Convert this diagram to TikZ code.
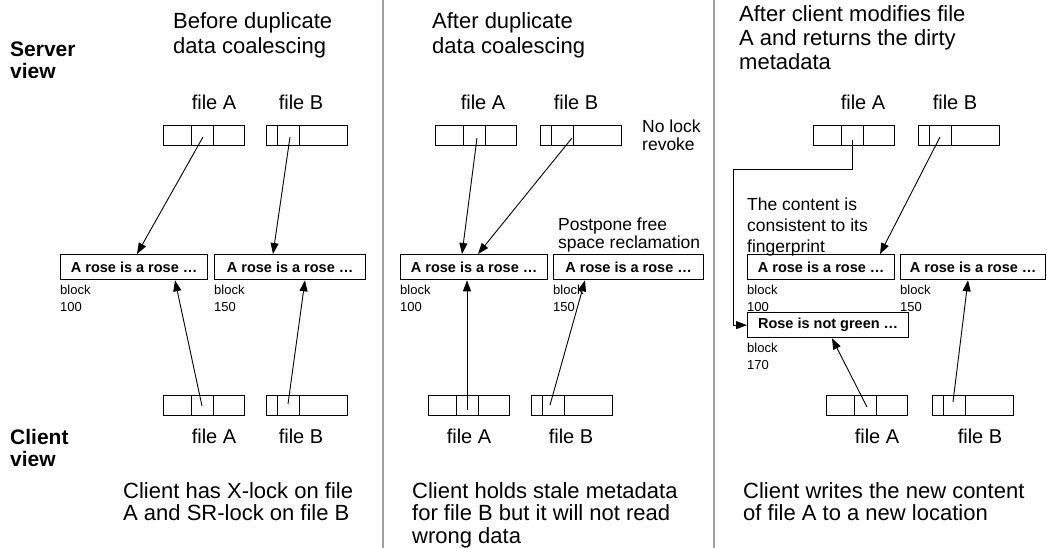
\documentclass[tikz,border=0pt]{standalone}
\usepackage{fontspec}
\setmainfont{Liberation Sans}
\usetikzlibrary{arrows.meta,calc}
\definecolor{sepgray}{RGB}{160,160,160}
\tikzset{
  filebox/.style={draw, line width=1pt, minimum width=81pt, minimum height=20pt, inner sep=0pt, anchor=north west},
  blockbox/.style={draw, line width=1.3pt, minimum height=25pt, inner sep=0pt, anchor=north west,
    font=\bfseries\fontsize{14.5}{16}\selectfont},
  arr/.style={line width=0.9pt, -{Triangle[length=11pt,width=8pt]}},
  bigtext/.style={inner sep=0pt, anchor=north west, align=left, font=\fontsize{22}{25}\selectfont},
  captext/.style={inner sep=0pt, anchor=north west, align=left, font=\fontsize{22}{22.5}\selectfont},
  sidetext/.style={inner sep=0pt, anchor=north west, align=left, font=\bfseries\fontsize{21}{22}\selectfont},
  filelbl/.style={inner sep=0pt, anchor=base, font=\fontsize{20}{22}\selectfont},
  blocklbl/.style={inner sep=0pt, anchor=north west, align=left, font=\fontsize{13}{17}\selectfont},
  note/.style={inner sep=0pt, anchor=north west, align=left, font=\fontsize{17.5}{18}\selectfont},
  sep/.style={draw=sepgray, line width=2.5pt},
}
% cell dividers of a file map: A-style (3 cells), B-style (narrow first cell)
\newcommand\splitA[1]{\draw[line width=1pt] ([xshift=28pt]#1.north west) -- ([xshift=28pt]#1.south west)
  ([xshift=50pt]#1.north west) -- ([xshift=50pt]#1.south west);}
\newcommand\splitB[1]{\draw[line width=1pt] ([xshift=11pt]#1.north west) -- ([xshift=11pt]#1.south west)
  ([xshift=33pt]#1.north west) -- ([xshift=33pt]#1.south west);}
\begin{document}
\begin{tikzpicture}[x=1pt,y=-1pt]
\useasboundingbox (0,0) rectangle (1047,548);

% panel separators
\coordinate (s1t) at (383,0);   \coordinate (s1b) at (383,548);
\coordinate (s2t) at (714,0);   \coordinate (s2b) at (714,548);
\draw[sep] (s1t) -- (s1b);
\draw[sep] (s2t) -- (s2b);

% side labels
\node[sidetext] (srv) at (10,42) {Server\\view};
\node[sidetext] (cli) at (10,429) {Client\\view};

% ---------------- panel 1 ----------------
\node[bigtext] (t1) at (173,12) {Before duplicate\\data coalescing};
\node[filebox] (p1sA) at (163,125) {}; \splitA{p1sA}
\node[filebox] (p1sB) at (266,125) {}; \splitB{p1sB}
\node[filelbl] (p1sAl) at (214,110) {file A};
\node[filelbl] (p1sBl) at (301,110) {file B};
\node[blockbox, minimum width=147pt] (p1b1) at (60,254) {A rose is a rose …};
\node[blockbox, minimum width=151pt] (p1b2) at (214,254) {A rose is a rose …};
\node[blocklbl] (p1l1) at (60,285) {block\\100};
\node[blocklbl] (p1l2) at (214,285) {block\\150};
\node[filebox] (p1cA) at (163,395) {}; \splitA{p1cA}
\node[filebox] (p1cB) at (266,395) {}; \splitB{p1cB}
\node[filelbl] (p1cAl) at (214,443) {file A};
\node[filelbl] (p1cBl) at (301,443) {file B};
\node[captext] (c1) at (123,482) {Client has X-lock on file\\A and SR-lock on file B};
\coordinate (p1sAp) at (203,137);
\coordinate (p1sBp) at (290,137);
\coordinate (p1cAp) at (202,406);
\coordinate (p1cBp) at (288,404);
\draw[arr] (p1sAp) -- ($(p1b1.north west)+(77,0)$);
\draw[arr] (p1sBp) -- ($(p1b2.north west)+(59,0)$);
\draw[arr] (p1cAp) -- ($(p1b1.south west)+(115,0)$);
\draw[arr] (p1cBp) -- ($(p1b2.south west)+(91,0)$);

% ---------------- panel 2 ----------------
\node[bigtext] (t2) at (432,12) {After duplicate\\data coalescing};
\node[filebox] (p2sA) at (435,125) {}; \splitA{p2sA}
\node[filebox] (p2sB) at (540,125) {}; \splitB{p2sB}
\node[filelbl] (p2sAl) at (483,110) {file A};
\node[filelbl] (p2sBl) at (576,110) {file B};
\node[note] (n1) at (642,120) {No lock\\revoke};
\node[note] (n2) at (558,218) {Postpone free\\space reclamation};
\node[blockbox, minimum width=147pt] (p2b1) at (400,254) {A rose is a rose …};
\node[blockbox, minimum width=150pt] (p2b2) at (553,254) {A rose is a rose …};
\node[blocklbl] (p2l1) at (400,285) {block\\100};
\node[blocklbl] (p2l2) at (553,285) {block\\150};
\node[filebox] (p2cA) at (428,395) {}; \splitA{p2cA}
\node[filebox] (p2cB) at (531,395) {}; \splitB{p2cB}
\node[filelbl] (p2cAl) at (469,443) {file A};
\node[filelbl] (p2cBl) at (571,443) {file B};
\node[captext] (c2) at (412,482) {Client holds stale metadata\\for file B but it will not read\\wrong data};
\coordinate (p2sAp) at (477,138);
\coordinate (p2sBp) at (572,138);
\coordinate (p2cAp) at (467,410);
\coordinate (p2cBp) at (550,405);
\draw[arr] (p2sAp) -- ($(p2b1.north west)+(62,0)$);
\draw[arr] (p2sBp) -- ($(p2b1.north west)+(78,0)$);
\draw[arr] (p2cAp) -- ($(p2b1.south west)+(67,0)$);
\draw[arr] (p2cBp) -- ($(p2b2.south west)+(32,0)$);

% ---------------- panel 3 ----------------
\node[bigtext, font=\fontsize{22}{24}\selectfont] (t3) at (739,5) {After client modifies file\\A and returns the dirty\\metadata};
\node[filebox] (p3sA) at (813,125) {}; \splitA{p3sA}
\node[filebox] (p3sB) at (918,125) {}; \splitB{p3sB}
\node[filelbl] (p3sAl) at (863,110) {file A};
\node[filelbl] (p3sBl) at (955,110) {file B};
\node[note, font=\fontsize{17.5}{21}\selectfont] (n3) at (747,198) {The content is\\consistent to its\\fingerprint};
\node[blockbox, minimum width=147pt] (p3b1) at (747,254) {A rose is a rose …};
\node[blockbox, minimum width=145pt] (p3b2) at (900,254) {A rose is a rose …};
\node[blocklbl] (p3l1) at (747,285) {block\\100};
\node[blocklbl] (p3l2) at (900,285) {block\\150};
\node[blockbox, minimum width=161pt] (p3b3) at (747,312) {Rose is not green …};
\node[blocklbl] (p3l3) at (747,343) {block\\170};
\node[filebox] (p3cA) at (826,395) {}; \splitA{p3cA}
\node[filebox] (p3cB) at (932,395) {}; \splitB{p3cB}
\node[filelbl] (p3cAl) at (877,443) {file A};
\node[filelbl] (p3cBl) at (980,443) {file B};
\node[captext] (c3) at (743,482) {Client writes the new content\\of file A to a new location};
\coordinate (p3sAp) at (852,140);
\coordinate (p3bend) at (733,169);
\coordinate (p3sBp) at (940,137);
\coordinate (p3cAp) at (867,407);
\coordinate (p3cBp) at (953,402);
\draw[arr] (p3sAp) |- (p3bend) |- (p3b3.west);
\draw[arr] (p3sBp) -- ($(p3b1.north west)+(133,0)$);
\draw[arr] (p3cAp) -- ($(p3b3.south west)+(85,0)$);
\draw[arr] (p3cBp) -- ($(p3b2.south west)+(68,0)$);
\end{tikzpicture}
\end{document}
